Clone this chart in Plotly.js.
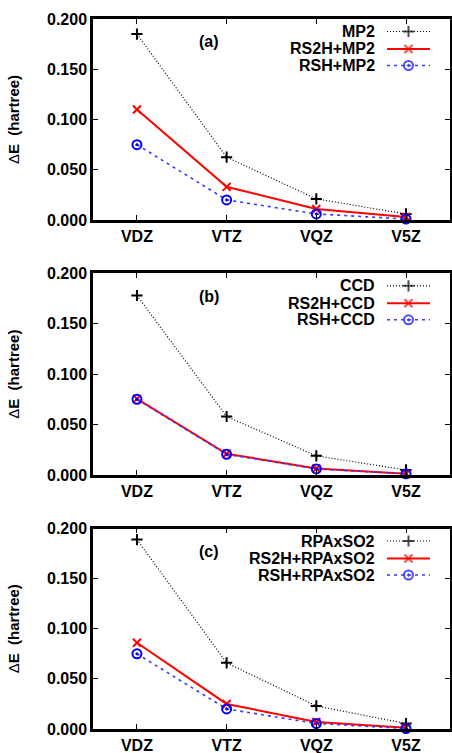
<!DOCTYPE html>
<html>
<head>
<meta charset="utf-8">
<script src="https://cdn.plot.ly/plotly-3.0.1.min.js"></script>
<style>html,body{margin:0;padding:0;background:#fff;}#chart{width:452px;height:753px;}</style>
</head>
<body>
<div id="chart"></div>
<script>
// ---- data ----
const basisSets = ['VDZ', 'VTZ', 'VQZ', 'V5Z'];
const yTickVals = [0, 0.05, 0.10, 0.15, 0.20];
const panelLabels = ['(a)', '(b)', '(c)'];

const namesA = ['MP2', 'RS2H+MP2', 'RSH+MP2'];
const mp2 = [0.185, 0.0625, 0.021, 0.006];
const rs2hMp2 = [0.110, 0.033, 0.011, 0.003];
const rshMp2 = [0.075, 0.020, 0.006, 0.001];

const namesB = ['CCD', 'RS2H+CCD', 'RSH+CCD'];
const ccd = [0.178, 0.058, 0.019, 0.005];
const rs2hCcd = [0.0755, 0.021, 0.0065, 0.0013];
const rshCcd = [0.075, 0.0205, 0.006, 0.0012];

const namesC = ['RPAxSO2', 'RS2H+RPAxSO2', 'RSH+RPAxSO2'];
const rpaxso2 = [0.189, 0.066, 0.023, 0.0055];
const rs2hRpaxso2 = [0.086, 0.025, 0.007, 0.0012];
const rshRpaxso2 = [0.075, 0.020, 0.0055, 0.0005];

// ---- styles ----
const W = 452, H = 753;
const FONT = 'Liberation Sans, Arial, Helvetica, sans-serif';
const styles = [
  {line: {color: '#000000', width: 1.2, dash: '1px,2px'}, marker: {symbol: 'cross-thin-open', size: 8, color: '#000000', line: {color: '#000000', width: 2}}},
  {line: {color: '#ff0000', width: 2}, marker: {symbol: 'x-thin-open', size: 8, color: '#ff0000', line: {color: '#ff0000', width: 2}}},
  {line: {color: '#3a3aff', width: 1.6, dash: '3px,4px'}, marker: {symbol: 'circle-open-dot', size: 9, color: '#0000ff', line: {color: '#0000ff', width: 2}}}
];

const panels = [
  {names: namesA, series: [mp2, rs2hMp2, rshMp2], top: 19, bottom: 220},
  {names: namesB, series: [ccd, rs2hCcd, rshCcd], top: 273.3, bottom: 475},
  {names: namesC, series: [rpaxso2, rs2hRpaxso2, rshRpaxso2], top: 528.5, bottom: 729}
];

const plotLeft = 93, plotRight = 449.5;
const traces = [];
const shapes = [];
const annotations = [];
const layout = {
  width: W, height: H,
  margin: {l: 0, r: 0, t: 0, b: 0},
  paper_bgcolor: '#ffffff', plot_bgcolor: 'rgba(0,0,0,0)',
  showlegend: false,
  font: {family: FONT, size: 16, color: '#000000'}
};

const legMarkX = [], legMarkY = [], legSymbols = [], legColors = [], legSizes = [];

panels.forEach((p, i) => {
  const n = i === 0 ? '' : String(i + 1);
  const xa = 'x' + n, ya = 'y' + n;
  p.series.forEach((vals, k) => {
    traces.push({
      type: 'scatter', mode: 'lines+markers',
      x: basisSets, y: vals, name: p.names[k],
      xaxis: xa, yaxis: ya,
      line: styles[k].line, marker: styles[k].marker,
      cliponaxis: false,
      hoverinfo: 'x+y+name'
    });
  });
  const axCommon = {
    showline: true, mirror: 'ticks', linecolor: '#000000', linewidth: 2.5,
    ticks: 'inside', ticklen: 5, tickwidth: 1.3, tickcolor: '#000000',
    showgrid: false, zeroline: false, fixedrange: true,
    tickfont: {family: FONT, size: 16, weight: 'bold', color: '#000000'}
  };
  layout['xaxis' + n] = Object.assign({}, axCommon, {
    type: 'category', categoryorder: 'array', categoryarray: basisSets,
    range: [-0.49, 3.485],
    domain: [plotLeft / W, plotRight / W],
    anchor: ya
  });
  layout['yaxis' + n] = Object.assign({}, axCommon, {
    range: [0, 0.2], tickvals: yTickVals, tickformat: '.3f',
    domain: [1 - p.bottom / H, 1 - p.top / H],
    anchor: xa,
    title: {text: 'Δ<b>E\u00a0\u00a0(hartree)</b>', font: {family: FONT, size: 15, color: '#000000'}, standoff: 24}
  });
  // panel label
  annotations.push({
    xref: 'paper', yref: 'paper', x: 209 / W, y: 1 - (p.top + 23) / H,
    text: '<b>' + panelLabels[i] + '</b>', showarrow: false,
    xanchor: 'center', yanchor: 'middle', font: {family: FONT, size: 16, color: '#000000'}
  });
  // legend (gnuplot style: text right-aligned, sample to the right)
  const rowOff = [12.5, 30, 46.5];
  p.names.forEach((nm, k) => {
    const yy = p.top + rowOff[k];
    annotations.push({
      xref: 'paper', yref: 'paper', x: 377 / W, y: 1 - yy / H,
      text: '<b>' + nm + '</b>', showarrow: false,
      xanchor: 'right', yanchor: 'middle', font: {family: FONT, size: 16, color: '#000000'}
    });
    shapes.push({
      type: 'line', xref: 'paper', yref: 'paper',
      x0: 387 / W, x1: 430 / W, y0: 1 - yy / H, y1: 1 - yy / H,
      line: {color: styles[k].line.color, width: styles[k].line.width, dash: styles[k].line.dash || 'solid'}
    });
    legMarkX.push(408.5); legMarkY.push(yy);
    legSymbols.push(styles[k].marker.symbol); legColors.push(styles[k].marker.color);
    legSizes.push(styles[k].marker.size);
  });
});

// overlay for legend marker samples (pixel coordinate system)
traces.push({
  type: 'scatter', mode: 'markers', x: legMarkX, y: legMarkY,
  xaxis: 'x4', yaxis: 'y4', hoverinfo: 'skip',
  marker: {symbol: legSymbols, size: legSizes, color: legColors, line: {color: legColors, width: 2}}
});
layout.xaxis4 = {domain: [0, 1], range: [0, W], visible: false, fixedrange: true, anchor: 'y4'};
layout.yaxis4 = {domain: [0, 1], range: [H, 0], visible: false, fixedrange: true, anchor: 'x4'};
layout.shapes = shapes;
layout.annotations = annotations;

Plotly.newPlot('chart', traces, layout, {displayModeBar: false});
</script>
</body>
</html>
